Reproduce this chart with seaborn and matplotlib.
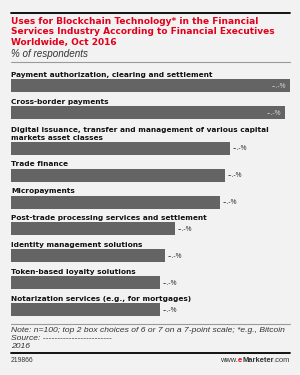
import matplotlib
matplotlib.use("Agg")
import matplotlib.pyplot as plt
from matplotlib.lines import Line2D
import seaborn as sns
import pandas as pd

# ---- data ----
categories = [
    "Payment authorization, clearing and settlement",
    "Cross-border payments",
    "Digital issuance, transfer and management of various capital\nmarkets asset classes",
    "Trade finance",
    "Micropayments",
    "Post-trade processing services and settlement",
    "Identity management solutions",
    "Token-based loyalty solutions",
    "Notarization services (e.g., for mortgages)",
]
values = [56, 55, 44, 43, 42, 33, 31, 30, 30]
value_labels = ["--.-%"] * len(values)

title = ("Uses for Blockchain Technology* in the Financial\n"
         "Services Industry According to Financial Executives\n"
         "Worldwide, Oct 2016")
subtitle = "% of respondents"
note = ("Note: n=100; top 2 box choices of 6 or 7 on a 7-point scale; *e.g., Bitcoin\n"
        "Source: ------------------------\n"
        "2016")
chart_id = "219866"

# ---- style ----
BG = "#f2f2f2"
BAR = "#646464"
RED = "#e2001a"
W, H = 300, 375

sns.set_theme(style="white")
plt.rcParams["font.family"] = ["DejaVu Sans"]

fig = plt.figure(figsize=(W / 100, H / 100), dpi=100, facecolor=BG)

def fx(x):
    return x / W

def fy(y):
    return 1 - y / H

def hline(y, color, lw, x0=11, x1=290):
    fig.add_artist(Line2D([fx(x0), fx(x1)], [fy(y), fy(y)], color=color, lw=lw))

# header
hline(13, "black", 1.3)
fig.text(fx(11), fy(16.5), title, color=RED, fontsize=6.5, fontweight="bold",
         family="DejaVu Sans", va="top", ha="left", linespacing=1.27)
fig.text(fx(11), fy(54), subtitle, color="#333333", fontsize=7.1, style="italic",
         family="Liberation Sans", va="center", ha="left")
hline(62, "#9a9a9a", 0.8)

# bars axes in pixel-like coordinates
top_px, bot_px = 64, 321
ax = fig.add_axes([fx(11), fy(bot_px), fx(290) - fx(11), (bot_px - top_px) / H])
ax.set_facecolor(BG)

step, extra, first = 26.9, 8.9, 85.5
positions = []
y = first
for lab in categories:
    y += extra * lab.count("\n")
    positions.append(y)
    y += step

df = pd.DataFrame({"use": categories, "value": values, "pos": positions})
bar_h = 13
sns.barplot(data=df, x="value", y="pos", orient="h", native_scale=True,
            width=bar_h / step, color=BAR, saturation=1, errorbar=None,
            linewidth=0, ax=ax)
xmax = 56
ax.set_xlim(0, xmax)
ax.set_ylim(bot_px, top_px)
ax.axis("off")

for lab, v, p, vl in zip(categories, values, positions, value_labels):
    ax.text(0, p - bar_h / 2 - 1.2, lab, fontsize=5.35, fontweight="bold",
            color="#111111", va="bottom", ha="left", linespacing=1.4)
    if v > xmax * 0.9:
        ax.annotate(vl, (v, p), xytext=(-3, -0.5), textcoords="offset points",
                    ha="right", va="center", fontsize=4.8, color="#dddddd",
                    family="Liberation Sans")
    else:
        ax.annotate(vl, (v, p), xytext=(1.5, -0.5), textcoords="offset points",
                    ha="left", va="center", fontsize=4.8, color="#222222",
                    family="Liberation Sans")

# footer
hline(324, "#9a9a9a", 0.8)
fig.text(fx(11), fy(326.5), note, color="#333333", fontsize=6.1, style="italic",
         family="Liberation Sans", va="top", ha="left", linespacing=1.2)
hline(353, "black", 1.3)
fig.text(fx(11), fy(360), chart_id, color="#333333", fontsize=4.9,
         family="Liberation Sans", va="center", ha="left")

fig.canvas.draw()
r = fig.canvas.get_renderer()
parts = [("www.", "normal", "#333333"), ("e", "bold", RED),
         ("Marketer", "bold", "#333333"), (".com", "normal", "#333333")]
xr = fx(290)
for txt, wt, col in reversed(parts):
    t = fig.text(xr, fy(360), txt, color=col, fontsize=5.4, fontweight=wt,
                 family="Liberation Sans", va="center", ha="right")
    bb = t.get_window_extent(renderer=r)
    xr -= bb.width / (W)

fig.savefig("out.png", dpi=100, facecolor=BG)
